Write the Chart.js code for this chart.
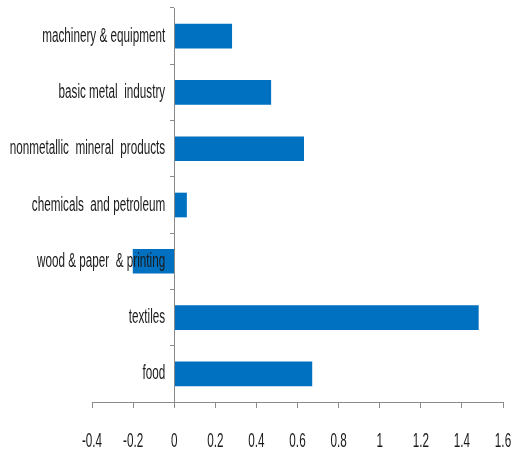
<!DOCTYPE html>
<html>
<head>
<meta charset="utf-8">
<script src="https://cdn.jsdelivr.net/npm/chart.js@4/dist/chart.umd.min.js"></script>
<style>
  html, body { margin: 0; padding: 0; background: #fff; }
  #wrap { width: 517px; height: 450px; }
</style>
</head>
<body>
<div id="wrap"><canvas id="chartSectores"></canvas></div>
<script>
const sectores = [
  'machinery & equipment',
  'basic metal  industry',
  'nonmetallic  mineral  products',
  'chemicals  and petroleum',
  'wood & paper  & printing',
  'textiles',
  'food'
];
const valores = [0.28, 0.47, 0.63, 0.06, -0.2, 1.48, 0.67];
const ejeMin = -0.4;
const ejeMax = 1.6;
const ejePaso = 0.2;

const fuente = { family: "'Liberation Sans', Arial, sans-serif", size: 20 };
const gris = '#8a8a8a';
const colorTexto = '#1a1a1a';

// letra estrecha: se comprime el texto en horizontal alrededor de su punto de anclaje
const escalaTexto = 0.585;
const textoEstrecho = {
  id: 'textoEstrecho',
  beforeInit(chart) {
    const ctx = chart.ctx;
    const fillText = ctx.fillText;
    ctx.fillText = function (text, x, y) {
      this.save();
      this.translate(x, y);
      this.scale(escalaTexto, 1);
      fillText.call(this, text, 0, 0);
      this.restore();
    };
  }
};

// sin relleno extra por etiquetas en los bordes
const sinRelleno = (scale) => {
  scale.paddingLeft = 0;
  scale.paddingRight = 0;
  scale.paddingTop = 0;
  scale.paddingBottom = 0;
};

const dataSectores = {
  labels: sectores,
  datasets: [{
    data: valores,
    yAxisID: 'y',
    backgroundColor: '#0070c0',
    borderWidth: 0,
    barThickness: 24
  }]
};

const optionsSectores = {
  indexAxis: 'y',
  responsive: true,
  maintainAspectRatio: false,
  animation: false,
  layout: {
    padding: { left: 92, right: 14, top: 8, bottom: 2 }
  },
  scales: {
    x: {
      min: ejeMin,
      max: ejeMax,
      afterFit: (scale) => {
        sinRelleno(scale);
        scale.height = 46;
      },
      ticks: {
        stepSize: ejePaso,
        color: colorTexto,
        font: fuente,
        padding: 21,
        maxRotation: 0,
        autoSkip: false,
        callback: v => Math.round(v * 10) / 10
      },
      grid: { drawOnChartArea: false, tickLength: 6, color: gris },
      border: { color: gris }
    },
    // eje vertical en x = 0, solo línea y marcas
    y: {
      position: { x: 0 },
      afterFit: sinRelleno,
      ticks: { display: false },
      grid: { drawOnChartArea: false, tickLength: 4, color: gris, offset: true },
      border: { color: gris, z: 1 }
    },
    // nombres de los sectores, un poco a la izquierda del cero y por encima de las barras
    yNombres: {
      type: 'category',
      axis: 'y',
      offset: true,
      position: { x: -0.044 },
      afterFit: sinRelleno,
      ticks: { color: colorTexto, font: fuente, autoSkip: false, z: 1 },
      grid: { display: false },
      border: { display: false }
    }
  },
  plugins: {
    legend: { display: false },
    tooltip: { enabled: false }
  }
};

const ctxSectores = document.getElementById('chartSectores');

new Chart(ctxSectores, {
  type: 'bar',
  data: dataSectores,
  options: optionsSectores,
  plugins: [textoEstrecho]
});
</script>
</body>
</html>
